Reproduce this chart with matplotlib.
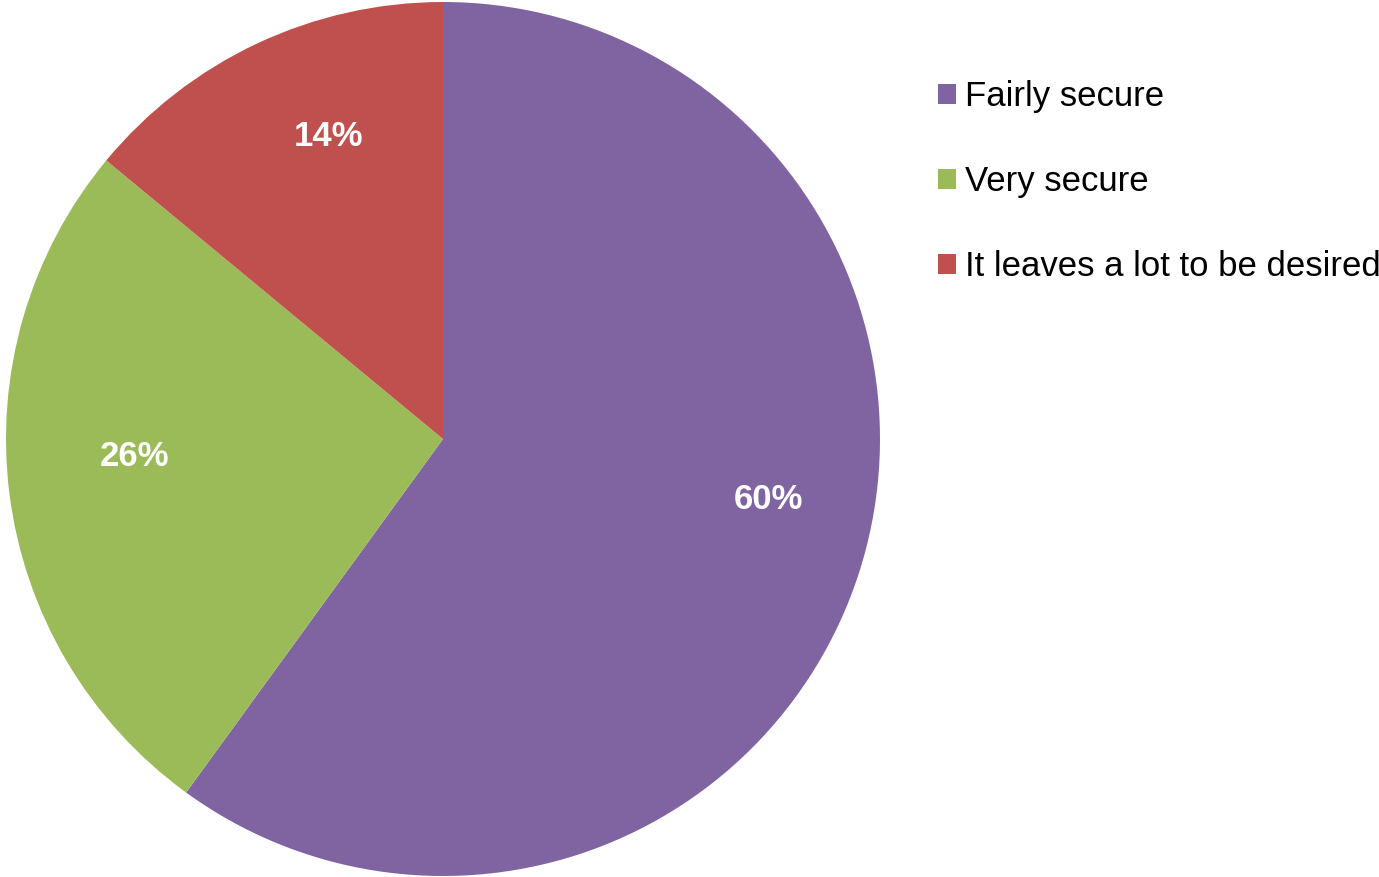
import matplotlib
matplotlib.use("Agg")
import matplotlib.pyplot as plt
from matplotlib.patches import Patch
import numpy as np

plt.rcParams['font.family'] = ['Liberation Sans', 'DejaVu Sans']

categories = ["Fairly secure", "Very secure", "It leaves a lot to be desired"]
values = [60, 26, 14]
colors = ["#8064A2", "#9BBB59", "#C0504D"]

# label placement per wedge: (angle in degrees, distance as fraction of radius)
label_pos = [(-10.6, 0.757), (183.3, 0.706), (110.7, 0.739)]

W, H = 1379, 877
fig = plt.figure(figsize=(W / 100, H / 100), dpi=100)
ax = fig.add_axes([6 / W, 1 / H, 874 / W, 874 / H])

wedges, _ = ax.pie(values, colors=colors, startangle=90, counterclock=False,
                   radius=1.0, wedgeprops=dict(linewidth=0))
ax.set_xlim(-1, 1)
ax.set_ylim(-1, 1)
ax.set_aspect('equal')
ax.axis('off')

total = sum(values)
for v, (ang, dist) in zip(values, label_pos):
    a = np.deg2rad(ang)
    ax.text(dist * np.cos(a), dist * np.sin(a), f"{round(100 * v / total)}%",
            ha='center', va='center', color='white', fontsize=25,
            fontweight='bold')

handles = [Patch(facecolor=c, edgecolor='none') for c in colors]
fig.legend(handles, categories, loc='upper left',
           bbox_to_anchor=(938 / W, 1 - 80 / H), frameon=False,
           fontsize=25, handlelength=0.52, handleheight=0.52,
           handletextpad=0.26, labelspacing=1.5, borderpad=0,
           borderaxespad=0)

fig.savefig("out.png", dpi=100, facecolor='white')
